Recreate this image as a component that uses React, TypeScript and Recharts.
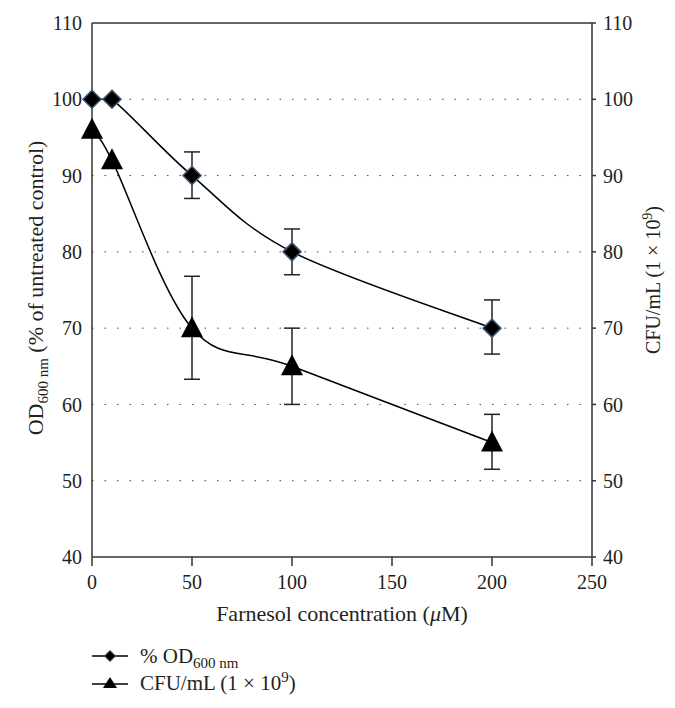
import * as React from 'react';
import { ComposedChart, Line, XAxis, YAxis, CartesianGrid, ErrorBar, ReferenceLine } from 'recharts';

const conc = [0, 10, 50, 100, 200];
const odValues = [100, 100, 90, 80, 70];
const odErrLow = [null, null, 3, 3, 3.4];
const odErrHigh = [null, null, 3.1, 3, 3.7];
const cfuValues = [96, 92, 70, 65, 55];
const cfuErrLow = [null, null, 6.7, 5, 3.5];
const cfuErrHigh = [null, null, 6.8, 5, 3.7];

const xTicks = [0, 50, 100, 150, 200, 250];
const yTicks = [40, 50, 60, 70, 80, 90, 100, 110];
const gridTicks = [50, 60, 70, 80, 90, 100];

const FONT = '"Liberation Serif", "DejaVu Serif", serif';
const AXIS = '#333';
const INK = '#231f20';

const data = conc.map((c, i) => ({
  conc: c,
  od: odValues[i],
  odErr: odErrLow[i] == null ? null : [odErrLow[i], odErrHigh[i]],
  cfu: cfuValues[i],
  cfuErr: cfuErrLow[i] == null ? null : [cfuErrLow[i], cfuErrHigh[i]],
}));

const tickStyle = { fontFamily: FONT, fontSize: 20, fill: INK };

// smoothed line like the spreadsheet's "smoothed line" option (Catmull-Rom through the points)
function smoothCurve(context: any) {
  let pts: number[][] = [];
  return {
    areaStart() {},
    areaEnd() {},
    lineStart() { pts = []; },
    point(x: number, y: number) { pts.push([+x, +y]); },
    lineEnd() {
      const n = pts.length;
      if (!n) return;
      context.moveTo(pts[0][0], pts[0][1]);
      for (let i = 0; i < n - 1; i++) {
        const p0 = pts[Math.max(i - 1, 0)];
        const p1 = pts[i];
        const p2 = pts[i + 1];
        const p3 = pts[Math.min(i + 2, n - 1)];
        // flat segments stay flat
        if (p1[1] === p2[1]) {
          context.lineTo(p2[0], p2[1]);
          continue;
        }
        context.bezierCurveTo(
          p1[0] + (p2[0] - p0[0]) / 6, p1[1] + (p2[1] - p0[1]) / 6,
          p2[0] - (p3[0] - p1[0]) / 6, p2[1] - (p3[1] - p1[1]) / 6,
          p2[0], p2[1]);
      }
    },
  };
}

const Diamond = (props: any) => {
  const { cx, cy, key } = props;
  const r = 9;
  return (
    <polygon key={key} points={`${cx},${cy - r} ${cx + r},${cy} ${cx},${cy + r} ${cx - r},${cy}`}
      fill="#000" stroke="#3d5572" strokeWidth={1.5} />
  );
};

const Triangle = (props: any) => {
  const { cx, cy, key } = props;
  return (
    <polygon key={key} points={`${cx},${cy - 12} ${cx + 11},${cy + 9} ${cx - 11},${cy + 9}`} fill="#000" />
  );
};

const XLabel = (props: any) => {
  const { viewBox } = props;
  const cx = viewBox.x + viewBox.width / 2;
  return (
    <text x={cx} y={621} textAnchor="middle" fontFamily={FONT} fontSize={22} fill={INK}>
      Farnesol concentration (<tspan fontStyle="italic">μ</tspan>M)
    </text>
  );
};

const LeftLabel = () => (
  <text x={0} y={0} transform="translate(43, 288) rotate(-90)" textAnchor="middle"
    fontFamily={FONT} fontSize={22} fill={INK}>
    OD<tspan fontSize={15} dy={5}>600 nm</tspan><tspan dy={-5}> (% of untreated control)</tspan>
  </text>
);

const RightLabel = () => (
  <text x={0} y={0} transform="translate(660, 280) rotate(-90)" textAnchor="middle"
    fontFamily={FONT} fontSize={20} fill={INK}>
    CFU/mL (1 × 10<tspan fontSize={14} dy={-8}>9</tspan><tspan dy={8}>)</tspan>
  </text>
);

export default function App() {
  return (
    <div style={{ position: 'absolute', left: 0, top: 0, width: 675, height: 708, background: '#fff' }}>
      <ComposedChart width={675} height={708} data={data}
        margin={{ top: 23, right: 23, bottom: 76, left: 32 }}>
        <CartesianGrid horizontal vertical={false} yAxisId="left" horizontalValues={gridTicks}
          stroke="#444" strokeDasharray="1.5 11" />
        <XAxis dataKey="conc" type="number" domain={[0, 250]} ticks={xTicks} height={75}
          tick={tickStyle} tickSize={9} tickMargin={9} stroke={AXIS} strokeWidth={1.5}
          label={<XLabel />} />
        <YAxis yAxisId="left" domain={[40, 110]} ticks={yTicks} width={60} tick={tickStyle}
          tickLine={false} tickSize={0} tickMargin={10} stroke={AXIS} strokeWidth={1.5}
          label={<LeftLabel />} />
        <YAxis yAxisId="right" orientation="right" domain={[40, 110]} ticks={yTicks} width={60}
          tick={tickStyle} tickSize={4} tickMargin={7} stroke={AXIS} strokeWidth={1.5}
          label={<RightLabel />} />
        <ReferenceLine yAxisId="left" y={110} stroke={AXIS} strokeWidth={1.5} />
        <Line yAxisId="left" dataKey="od" type={smoothCurve as any} stroke="#000" strokeWidth={1.5}
          dot={Diamond} activeDot={false} isAnimationActive={false}>
          <ErrorBar dataKey="odErr" width={8} stroke="#222" strokeWidth={1.5} direction="y" />
        </Line>
        <Line yAxisId="right" dataKey="cfu" type={smoothCurve as any} stroke="#000" strokeWidth={1.5}
          dot={Triangle} activeDot={false} isAnimationActive={false}>
          <ErrorBar dataKey="cfuErr" width={8} stroke="#222" strokeWidth={1.5} direction="y" />
        </Line>
      </ComposedChart>
      <div style={{ position: 'absolute', left: 90, top: 642, fontFamily: FONT, fontSize: 21, color: INK }}>
        <div style={{ display: 'flex', alignItems: 'center', height: 27 }}>
          <svg width={40} height={26}>
            <line x1={2} y1={13} x2={38} y2={13} stroke="#000" strokeWidth={1.5} />
            <polygon points="20,7.5 25.5,13 20,18.5 14.5,13" fill="#000" stroke="#3d5572" strokeWidth={1} />
          </svg>
          <span style={{ marginLeft: 10, lineHeight: '20px' }}>% OD<sub style={{ fontSize: 15, lineHeight: 0 }}>600 nm</sub></span>
        </div>
        <div style={{ display: 'flex', alignItems: 'center', height: 27 }}>
          <svg width={40} height={26}>
            <line x1={2} y1={14} x2={38} y2={14} stroke="#000" strokeWidth={1.5} />
            <polygon points="20,7 27,18 13,18" fill="#000" />
          </svg>
          <span style={{ marginLeft: 10, lineHeight: '20px' }}>CFU/mL (1 × 10<sup style={{ fontSize: 15, lineHeight: 0 }}>9</sup>)</span>
        </div>
      </div>
    </div>
  );
}
